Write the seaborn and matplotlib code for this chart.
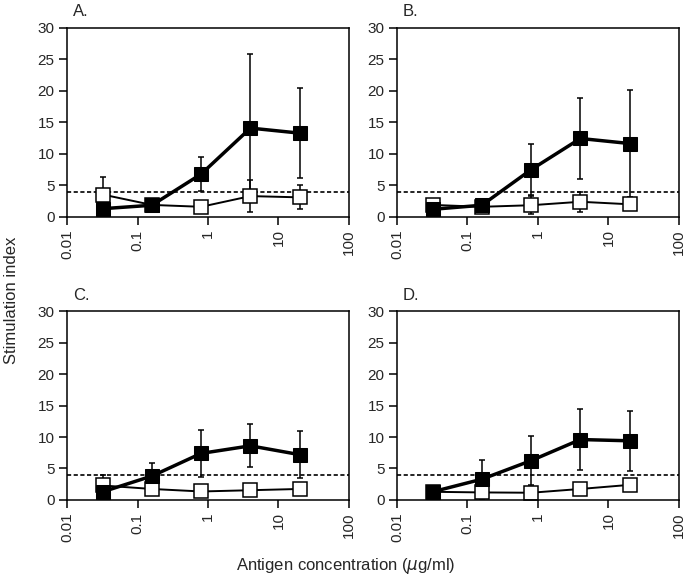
import matplotlib
matplotlib.use("Agg")
import matplotlib.pyplot as plt
import seaborn as sns
import pandas as pd
import numpy as np

# antigen concentrations (ug/ml), 5-fold dilutions
conc = [0.032, 0.16, 0.8, 4, 20]

# filled squares
filled_A = [1.3, 1.85, 6.8, 14.1, 13.3]
filled_A_err = [0.0, 0.0, 2.7, 11.7, 7.1]
filled_B = [1.2, 1.85, 7.5, 12.45, 11.65]
filled_B_err = [0.0, 0.0, 4.05, 6.5, 8.5]
filled_C = [1.3, 3.8, 7.4, 8.6, 7.2]
filled_C_err = [0.0, 2.0, 3.7, 3.4, 3.7]
filled_D = [1.3, 3.3, 6.25, 9.6, 9.4]
filled_D_err = [0.0, 3.1, 3.95, 4.8, 4.8]

# open squares
open_A = [3.55, 1.9, 1.6, 3.3, 3.1]
open_A_err = [2.8, 0.0, 0.0, 2.5, 1.9]
open_B = [1.9, 1.6, 1.85, 2.4, 2.0]
open_B_err = [0.8, 0.0, 1.4, 1.6, 0.0]
open_C = [2.3, 1.75, 1.35, 1.55, 1.75]
open_C_err = [1.6, 0.0, 0.0, 0.0, 0.0]
open_D = [1.3, 1.2, 1.15, 1.75, 2.4]
open_D_err = [0.0, 0.0, 0.0, 0.0, 0.0]

threshold = 4
panel_labels = ["A.", "B.", "C.", "D."]
xticks = [0.01, 0.1, 1, 10, 100]
xtick_labels = ["0.01", "0.1", "1", "10", "100"]
yticks = [0, 5, 10, 15, 20, 25, 30]

sns.set_style("ticks")
plt.rcParams['font.family'] = ['Liberation Sans', 'DejaVu Sans']
plt.rcParams['mathtext.fontset'] = 'dejavusans'

fig = plt.figure(figsize=(6.91, 5.83), dpi=100)

# axes boxes in figure fraction
positions = [
    [0.097, 0.628, 0.408, 0.324],
    [0.5745, 0.628, 0.408, 0.324],
    [0.097, 0.1424, 0.408, 0.324],
    [0.5745, 0.1424, 0.408, 0.324],
]

filled_all = [(filled_A, filled_A_err), (filled_B, filled_B_err),
              (filled_C, filled_C_err), (filled_D, filled_D_err)]
open_all = [(open_A, open_A_err), (open_B, open_B_err),
            (open_C, open_C_err), (open_D, open_D_err)]

for i in range(4):
    ax = fig.add_axes(positions[i])
    ax.set_xscale('log')

    df_f = pd.DataFrame({'conc': conc, 'si': filled_all[i][0], 'err': filled_all[i][1]})
    df_o = pd.DataFrame({'conc': conc, 'si': open_all[i][0], 'err': open_all[i][1]})

    # error bars only where they show in the figure
    for df in [df_o, df_f]:
        m = df['err'] > 0
        ax.errorbar(df['conc'][m], df['si'][m], yerr=df['err'][m], fmt='none',
                    ecolor='black', elinewidth=1.1, capsize=2.5, capthick=1.1, zorder=1)

    ax.axhline(threshold, color='black', linestyle=(0, (2.5, 1.5)), linewidth=1.2, zorder=1.5)

    sns.lineplot(data=df_o, x='conc', y='si', ax=ax, color='black', linewidth=1.4,
                 marker='s', markersize=9.5, markerfacecolor='white',
                 markeredgecolor='black', markeredgewidth=1.1, zorder=2)
    sns.lineplot(data=df_f, x='conc', y='si', ax=ax, color='black', linewidth=2.5,
                 marker='s', markersize=9.5, markerfacecolor='black',
                 markeredgecolor='black', zorder=3)

    ax.set_xlim(0.01, 100)
    ax.set_ylim(0, 30)
    ax.set_xticks(xticks)
    ax.set_xticklabels(xtick_labels, rotation=90, fontsize=11)
    ax.minorticks_off()
    ax.set_yticks(yticks)
    ax.set_yticklabels([str(v) for v in yticks], fontsize=11)
    ax.tick_params(axis='both', direction='out', length=6, width=1.1, color='black', pad=3)
    for s in ax.spines.values():
        s.set_linewidth(1.1)
        s.set_color('black')
    ax.set_xlabel('')
    ax.set_ylabel('')
    ax.text(0.02, 1.045, panel_labels[i], transform=ax.transAxes, fontsize=12,
            ha='left', va='bottom')

fig.text(0.5, 0.012, 'Antigen concentration ($\\mu$g/ml)', ha='center', va='bottom', fontsize=12)
fig.text(0.006, 0.485, 'Stimulation index', rotation=90, ha='left', va='center', fontsize=12)

fig.savefig('out.png', dpi=100)
